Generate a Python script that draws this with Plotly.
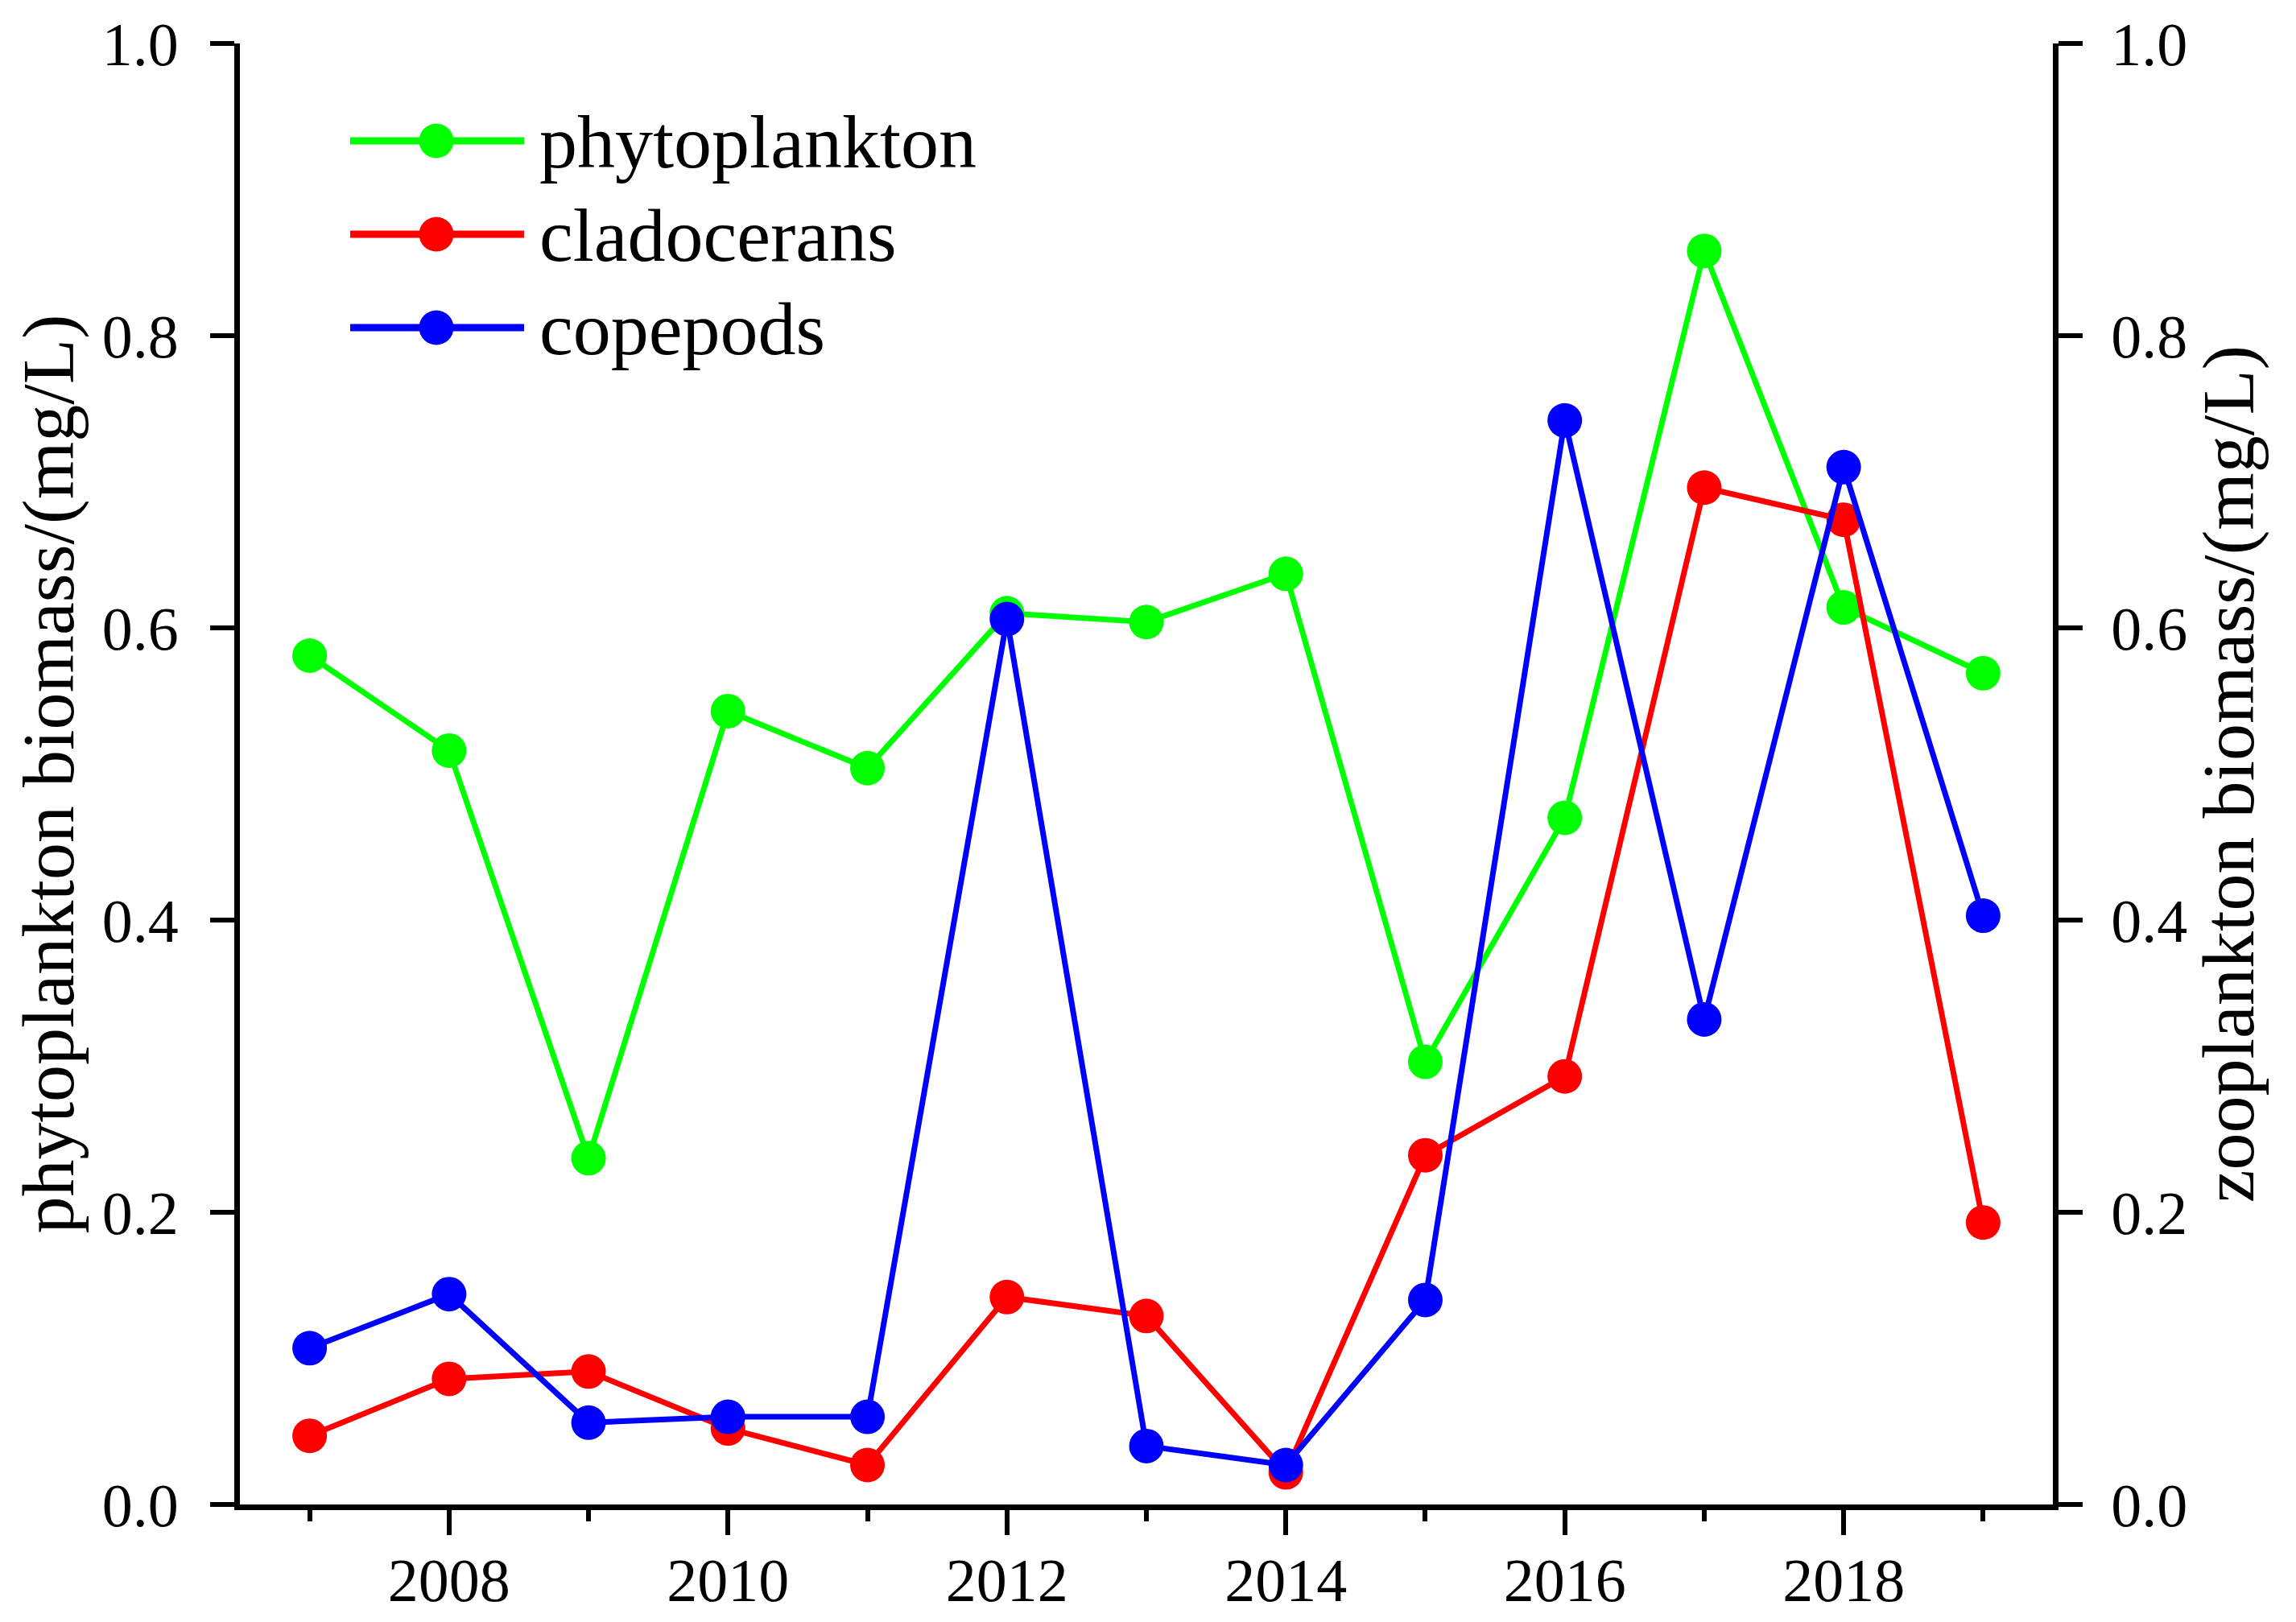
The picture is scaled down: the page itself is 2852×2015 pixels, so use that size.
import plotly.graph_objects as go

years = [2007, 2008, 2009, 2010, 2011, 2012, 2013, 2014, 2015, 2016, 2017, 2018, 2019]
phytoplankton = [0.581, 0.516, 0.237, 0.543, 0.504, 0.610, 0.604, 0.637, 0.303, 0.470, 0.858, 0.614, 0.569]
cladocerans = [0.047, 0.086, 0.091, 0.052, 0.027, 0.142, 0.129, 0.022, 0.239, 0.293, 0.696, 0.674, 0.193]
copepods = [0.107, 0.144, 0.056, 0.060, 0.060, 0.606, 0.040, 0.027, 0.140, 0.742, 0.332, 0.710, 0.403]

series_names = ["phytoplankton", "cladocerans", "copepods"]
series_colors = ["#00FF00", "#FF0000", "#0000FF"]
series_axes = ["y", "y2", "y2"]
series_values = [phytoplankton, cladocerans, copepods]

left_title = "phytoplankton biomass/(mg/L)"
right_title = "zooplankton biomass/(mg/L)"

FONT = "Liberation Serif, Times New Roman, serif"
W, H = 2852, 2015
ML, MR, MT, MB = 298, 302, 54, 146
PW, PH = W - ML - MR, H - MT - MB


def px_to_paper_x(px):
    return (px - ML) / PW


def px_to_paper_y(py):
    return (H - MB - py) / PH


fig = go.Figure()
for name, color, ax, vals in zip(series_names, series_colors, series_axes, series_values):
    fig.add_trace(go.Scatter(
        x=years, y=vals, name=name, yaxis=ax,
        mode="lines+markers",
        line=dict(color=color, width=7),
        marker=dict(color=color, size=43, symbol="circle"),
        showlegend=False,
    ))

# Legend drawn as layout decorations (line + circle glyph + label) for each series
legend_shapes = []
legend_annotations = []
for i, (name, color) in enumerate(zip(series_names, series_colors)):
    row_y = px_to_paper_y(175 + i * 116)
    cx = px_to_paper_x(542)
    legend_shapes.append(dict(
        type="line", xref="paper", yref="paper",
        xsizemode="pixel", ysizemode="pixel", xanchor=cx, yanchor=row_y,
        x0=-107, x1=109, y0=0, y1=0,
        line=dict(color=color, width=9),
    ))
    legend_shapes.append(dict(
        type="circle", xref="paper", yref="paper",
        xsizemode="pixel", ysizemode="pixel", xanchor=cx, yanchor=row_y,
        x0=-21.5, x1=21.5, y0=-21.5, y1=21.5,
        fillcolor=color, line=dict(color=color, width=0),
    ))
    legend_annotations.append(dict(
        text=name, xref="paper", yref="paper",
        x=px_to_paper_x(668), y=px_to_paper_y(175 + i * 116 + 1),
        xanchor="left", yanchor="middle", showarrow=False,
        font=dict(family=FONT, size=94, color="black"),
    ))

axis_common = dict(
    showline=True, linecolor="black", linewidth=7,
    ticks="outside", tickcolor="black", tickwidth=6,
    showgrid=False, zeroline=False,
    tickfont=dict(family=FONT, size=76, color="black"),
)

fig.update_layout(
    width=W, height=H,
    margin=dict(l=ML, r=MR, t=MT, b=MB, autoexpand=False),
    paper_bgcolor="white", plot_bgcolor="white",
    font=dict(family=FONT, color="black"),
    xaxis=dict(
        range=[2006.5, 2019.5], tick0=2008, dtick=2, ticklen=31,
        minor=dict(ticks="outside", dtick=1, tick0=2007, ticklen=14, tickwidth=6, tickcolor="black"),
        ticklabelstandoff=-9,
        **axis_common,
    ),
    yaxis=dict(
        range=[0, 1], dtick=0.2, tickformat=".1f", ticklen=30,
        ticklabelstandoff=24,
        title=dict(text=left_title, font=dict(family=FONT, size=92, color="black"), standoff=7),
        **axis_common,
    ),
    yaxis2=dict(
        range=[0, 1], dtick=0.2, tickformat=".1f", ticklen=30,
        overlaying="y", side="right", anchor="x",
        ticklabelstandoff=20,
        title=dict(text=right_title, font=dict(family=FONT, size=92, color="black"), standoff=18),
        **axis_common,
    ),
    shapes=legend_shapes,
    annotations=legend_annotations,
    showlegend=False,
)

fig.write_html("out.html")
